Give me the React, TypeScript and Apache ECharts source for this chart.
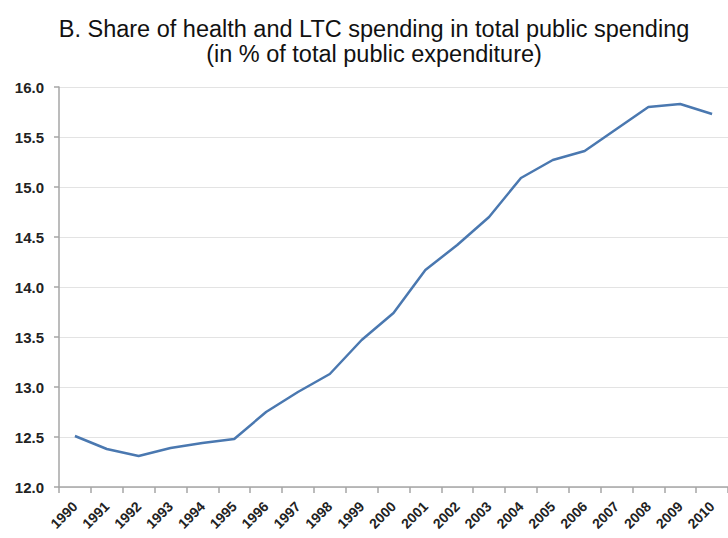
import React, { useEffect, useRef } from "react";
import * as echarts from "echarts";

const years = ["1990","1991","1992","1993","1994","1995","1996","1997","1998","1999","2000","2001","2002","2003","2004","2005","2006","2007","2008","2009","2010"];
const shareValues = [12.51,12.38,12.31,12.39,12.44,12.48,12.75,12.95,13.13,13.47,13.74,14.17,14.42,14.70,15.09,15.27,15.36,15.58,15.80,15.83,15.73];
const titleLines = ["B. Share of health and LTC spending in total public spending", "(in % of total public expenditure)"];

export default function App() {
  const ref = useRef<HTMLDivElement>(null);
  useEffect(() => {
    if (!ref.current) return;
    const chart = echarts.init(ref.current, null, { renderer: "svg" });
    chart.setOption({
      animation: false,
      backgroundColor: "#ffffff",
      graphic: [
        {
          type: "text",
          x: 374,
          y: 16,
          style: {
            text: titleLines.join("\n"),
            font: "23.5px 'Liberation Sans', Arial, sans-serif",
            fill: "#111",
            textAlign: "center",
            lineHeight: 25,
          },
        },
      ],
      grid: { left: 59, top: 87, bottom: 51, right: -7, containLabel: false },
      xAxis: {
        type: "category",
        data: years,
        boundaryGap: true,
        axisLine: { show: true, lineStyle: { color: "#a6a6a6", width: 1.5 } },
        axisTick: { show: true, length: 6, alignWithLabel: false, lineStyle: { color: "#a6a6a6", width: 1.5 } },
        axisLabel: {
          rotate: 45,
          margin: 17,
          interval: 0,
          color: "#222",
          fontFamily: "'Liberation Sans', Arial, sans-serif",
          fontWeight: "bold",
          fontSize: 14,
        },
        splitLine: { show: false },
      },
      yAxis: {
        type: "value",
        min: 12,
        max: 16,
        interval: 0.5,
        axisLine: { show: true, lineStyle: { color: "#a6a6a6", width: 1.5 } },
        axisTick: { show: true, length: 5, lineStyle: { color: "#a6a6a6", width: 1.5 } },
        axisLabel: {
          margin: 15,
          color: "#222",
          fontFamily: "'Liberation Sans', Arial, sans-serif",
          fontWeight: "bold",
          fontSize: 15,
          formatter: (v: number) => v.toFixed(1),
        },
        splitLine: { show: true, lineStyle: { color: "#e3e3e3", width: 1 } },
      },
      series: [
        {
          type: "line",
          data: shareValues,
          showSymbol: false,
          symbol: "none",
          lineStyle: { color: "#4a78b0", width: 2.5 },
          itemStyle: { color: "#4a78b0" },
        },
      ],
    });
    return () => chart.dispose();
  }, []);
  return <div ref={ref} style={{ width: 728, height: 538, position: "absolute", left: 0, top: 0 }} />;
}
